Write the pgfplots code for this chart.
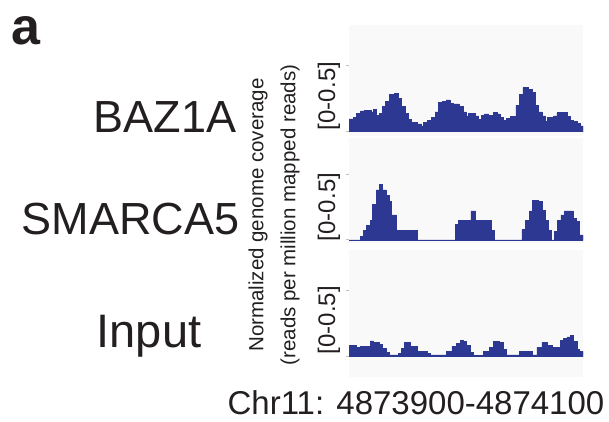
\documentclass[border=0pt]{standalone}
\usepackage{fontspec}
\setmainfont{Liberation Sans}
\usepackage{pgfplots}
\pgfplotsset{compat=1.18}
\definecolor{dblue}{RGB}{45,56,146}
\definecolor{bgg}{RGB}{249,249,249}
\definecolor{txt}{RGB}{35,31,32}
\pgfplotsset{trk/.style={scale only axis, width=234pt, xmin=27, xmax=728,
  axis line style={draw=none}, axis background/.style={fill=bgg},
  xtick=\empty, ytick={0,0.5}, yticklabels={}, ytick pos=left,
  tick align=outside, major tick length=3pt, tick style={gray!50, line width=1pt}}}
\begin{document}
\begin{tikzpicture}[x=1pt,y=1pt]
\useasboundingbox (0,0) rectangle (609,421);
\begin{axis}[trk, at={(349pt,285pt)}, anchor=south west, height=111pt, ymin=-0.033, ymax=0.808]
\addplot[const plot, fill=dblue, draw=dblue, line width=0.6pt, mark=none] coordinates {
(27,0.096)(40,0.11)(50,0.14)(62,0.157)(72,0.16)(95,0.15)(100,0.17)(108,0.126)(118,0.139)(126,0.19)(136,0.23)(147,0.28)(163,0.29)(176,0.25)(185,0.19)(195,0.14)(205,0.093)(215,0.068)(232,0.058)(245,0.043)(250,0.068)(262,0.083)(275,0.11)(285,0.15)(295,0.22)(305,0.23)(318,0.24)(330,0.215)(340,0.21)(358,0.19)(368,0.15)(378,0.12)(385,0.14)(405,0.12)(415,0.093)(423,0.126)(432,0.134)(445,0.124)(460,0.146)(470,0.134)(480,0.11)(490,0.088)(498,0.101)(510,0.114)(527,0.2)(538,0.28)(548,0.333)(565,0.32)(575,0.295)(585,0.2)(595,0.15)(605,0.12)(615,0.076)(622,0.11)(640,0.12)(650,0.146)(680,0.114)(690,0.088)(700,0.076)(710,0.063)(720,0.043)(728,0.043)
} \closedcycle;
\end{axis}
\begin{axis}[trk, at={(349pt,178pt)}, anchor=south west, height=105pt, ymin=-0.023, ymax=0.773]
\addplot[const plot, fill=dblue, draw=dblue, line width=0.6pt, mark=none] coordinates {
(27,0)(60,0.025)(70,0.07)(80,0.11)(90,0.15)(98,0.27)(108,0.38)(118,0.42)(128,0.38)(138,0.34)(148,0.295)(155,0.19)(168,0.07)(233,0)(346,0.12)(355,0.15)(392,0.22)(405,0.15)(415,0.15)(453,0.07)(462,0)(545,0.08)(555,0.15)(567,0.22)(577,0.30)(595,0.295)(605,0.227)(615,0.15)(625,0.07)(633,0)(642,0.063)(652,0.15)(662,0.19)(672,0.22)(698,0.164)(708,0.14)(718,0.038)(728,0.038)
} \closedcycle;
\end{axis}
\begin{axis}[trk, at={(349pt,44pt)}, anchor=south west, height=127pt, ymin=-0.154, ymax=0.808]
\addplot[const plot, fill=dblue, draw=dblue, line width=0.6pt, mark=none] coordinates {
(27,0.088)(50,0.07)(60,0.08)(75,0.076)(90,0.12)(100,0.106)(118,0.096)(128,0.063)(138,0.03)(148,0.013)(175,0.025)(185,0.063)(192,0.106)(212,0.08)(232,0.038)(262,0.025)(272,0.013)(318,0.038)(335,0.076)(348,0.1)(360,0.126)(368,0.114)(378,0.088)(390,0.03)(400,0.01)(430,0.038)(448,0.07)(460,0.113)(478,0.106)(490,0.055)(498,0.013)(538,0.038)(575,0.013)(590,0.07)(605,0.106)(620,0.088)(635,0.07)(660,0.126)(670,0.139)(680,0.15)(690,0.164)(698,0.113)(712,0.055)(718,0.038)(728,0.038)
} \closedcycle;
\end{axis}
\node[anchor=base west, font=\bfseries\fontsize{52}{60}\selectfont, text=txt] at (8,376) {a};
\node[anchor=base west, font=\fontsize{45}{54}\selectfont, text=txt] at (90,289) {BAZ1A};
\node[anchor=base west, font=\fontsize{45}{54}\selectfont, text=txt] at (18,187) {SMARCA5};
\node[anchor=base, font=\fontsize{47}{54}\selectfont, text=txt] at (149,74) {Input};
\node[anchor=base, font=\fontsize{33}{40}\selectfont, text=txt] at (416,7) {Chr11: 4873900-4874100};
\node[rotate=90, align=center, font=\fontsize{20.5}{32}\selectfont, text=txt] at (274,206) {Normalized genome coverage\\(reads per million mapped reads)};
\node[rotate=90, font=\fontsize{24}{28}\selectfont, text=txt] at (329,325) {[0-0.5]};
\node[rotate=90, font=\fontsize{24}{28}\selectfont, text=txt] at (329,214) {[0-0.5]};
\node[rotate=90, font=\fontsize{24}{28}\selectfont, text=txt] at (329,101) {[0-0.5]};
\end{tikzpicture}
\end{document}
